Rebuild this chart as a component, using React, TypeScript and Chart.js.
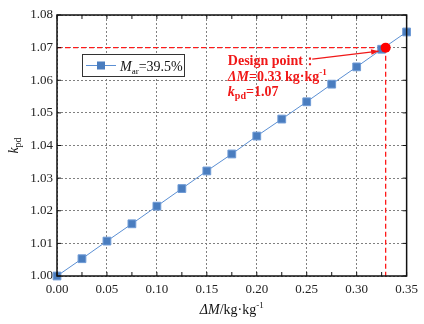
import React, { useEffect, useRef } from "react";
import { Chart, registerables } from "chart.js";

Chart.register(...registerables);

const deltaM = [0, 0.025, 0.05, 0.075, 0.1, 0.125, 0.15, 0.175, 0.2, 0.225, 0.25, 0.275, 0.3, 0.325, 0.35];
const kpd = [1.0, 1.0053, 1.0107, 1.016, 1.0214, 1.0268, 1.0322, 1.0374, 1.0429, 1.0481, 1.0534, 1.0588, 1.0641, 1.0695, 1.0748];
const designX = 0.329;
const designY = 1.07;
const xMin = 0, xMax = 0.35, xStep = 0.05, xMinorStep = 0.025;
const yMin = 1.0, yMax = 1.08, yStep = 0.01;

const SERIF = "'Liberation Serif', 'Times New Roman', serif";
const BLUE = "#4a7dbf";
const BLUE_LINE = "#5b8fd3";
const RED = "#ff1a1a";

function drawRuns(ctx: CanvasRenderingContext2D, x: number, y: number, runs: { t: string; f: string; dy?: number }[]) {
  let cx = x;
  for (const r of runs) {
    ctx.font = r.f;
    ctx.fillText(r.t, cx, y + (r.dy || 0));
    cx += ctx.measureText(r.t).width;
  }
  return cx;
}

const framePlugin = {
  id: "frame",
  beforeDatasetsDraw(chart: any) {
    const { ctx, scales } = chart;
    const xs = scales.x, ys = scales.y;
    const a = chart.chartArea;
    const px = xs.getPixelForValue(designX);
    const py = ys.getPixelForValue(designY);
    ctx.save();
    ctx.strokeStyle = RED;
    ctx.lineWidth = 1.3;
    ctx.setLineDash([5, 3]);
    ctx.beginPath();
    ctx.moveTo(a.left, py);
    ctx.lineTo(px, py);
    ctx.moveTo(px, py);
    ctx.lineTo(px, a.bottom);
    ctx.stroke();
    ctx.restore();
  },
  afterDatasetsDraw(chart: any) {
    const { ctx, scales } = chart;
    const xs = scales.x, ys = scales.y;
    const a = chart.chartArea;
    ctx.save();
    // design point
    const px = xs.getPixelForValue(designX);
    const py = ys.getPixelForValue(designY);
    ctx.fillStyle = "#ff0000";
    ctx.beginPath();
    ctx.arc(px, py, 5, 0, Math.PI * 2);
    ctx.fill();

    // frame
    ctx.strokeStyle = "#111";
    ctx.lineWidth = 1.5;
    ctx.strokeRect(a.left, a.top, a.right - a.left, a.bottom - a.top);

    // ticks inward
    ctx.lineWidth = 1;
    ctx.beginPath();
    for (let v = xMin; v <= xMax + 1e-9; v += xMinorStep) {
      const x = xs.getPixelForValue(v);
      ctx.moveTo(x, a.bottom);
      ctx.lineTo(x, a.bottom - 4);
      ctx.moveTo(x, a.top);
      ctx.lineTo(x, a.top + 4);
    }
    for (let v = yMin; v <= yMax + 1e-9; v += yStep) {
      const y = ys.getPixelForValue(v);
      ctx.moveTo(a.left, y);
      ctx.lineTo(a.left + 4, y);
      ctx.moveTo(a.right, y);
      ctx.lineTo(a.right - 4, y);
    }
    ctx.stroke();

    // legend
    const lx = a.left + 25, ly = a.top + 39, lw = 102, lh = 22;
    ctx.fillStyle = "#fff";
    ctx.fillRect(lx, ly, lw, lh);
    ctx.strokeStyle = "#333";
    ctx.lineWidth = 1;
    ctx.strokeRect(lx + 0.5, ly + 0.5, lw, lh);
    const cy = ly + lh / 2 + 0.5;
    ctx.strokeStyle = BLUE_LINE;
    ctx.beginPath();
    ctx.moveTo(lx + 4, cy);
    ctx.lineTo(lx + 34, cy);
    ctx.stroke();
    ctx.fillStyle = BLUE;
    ctx.fillRect(lx + 15, cy - 4, 8, 8);
    ctx.fillStyle = "#111";
    ctx.textBaseline = "alphabetic";
    drawRuns(ctx, lx + 38, cy + 5, [
      { t: "M", f: `italic 14px ${SERIF}` },
      { t: "ar", f: `9px ${SERIF}`, dy: 3 },
      { t: "=39.5%", f: `14px ${SERIF}` },
    ]);

    // annotation
    const tx = xs.getPixelForValue(0.171);
    const t1 = ys.getPixelForValue(1.0647);
    ctx.fillStyle = "#f01818";
    drawRuns(ctx, tx, t1, [{ t: "Design point：", f: `bold 14px ${SERIF}` }]);
    drawRuns(ctx, tx, t1 + 16, [
      { t: "ΔM", f: `italic bold 14px ${SERIF}` },
      { t: "=0.33 kg·kg", f: `bold 14px ${SERIF}` },
      { t: "-1", f: `bold 9px ${SERIF}`, dy: -6 },
    ]);
    drawRuns(ctx, tx, t1 + 31, [
      { t: "k", f: `italic bold 14px ${SERIF}` },
      { t: "pd", f: `bold 10px ${SERIF}`, dy: 3 },
      { t: "=1.07", f: `bold 14px ${SERIF}` },
    ]);
    // arrow
    const ax0 = xs.getPixelForValue(0.2555), ay0 = ys.getPixelForValue(1.0665);
    const ax1 = px - 7, ay1 = py + 3.5;
    ctx.strokeStyle = "#f01818";
    ctx.lineWidth = 1.3;
    ctx.beginPath();
    ctx.moveTo(ax0, ay0);
    ctx.lineTo(ax1, ay1);
    ctx.stroke();
    const ang = Math.atan2(ay1 - ay0, ax1 - ax0);
    ctx.beginPath();
    ctx.moveTo(ax1, ay1);
    ctx.lineTo(ax1 - 8 * Math.cos(ang - 0.35), ay1 - 8 * Math.sin(ang - 0.35));
    ctx.lineTo(ax1 - 8 * Math.cos(ang + 0.35), ay1 - 8 * Math.sin(ang + 0.35));
    ctx.closePath();
    ctx.fill();

    // axis titles
    ctx.fillStyle = "#111";
    const xt = [
      { t: "ΔM", f: `italic 14px ${SERIF}` },
      { t: "/kg·kg", f: `14px ${SERIF}` },
      { t: "-1", f: `9px ${SERIF}`, dy: -6 },
    ];
    let w = 0;
    for (const r of xt) { ctx.font = r.f; w += ctx.measureText(r.t).width; }
    drawRuns(ctx, (a.left + a.right) / 2 - w / 2, a.bottom + 38, xt);

    ctx.translate(18, (a.top + a.bottom) / 2);
    ctx.rotate(-Math.PI / 2);
    const yt = [
      { t: "k", f: `italic 14px ${SERIF}` },
      { t: "pd", f: `10px ${SERIF}`, dy: 3 },
    ];
    w = 0;
    for (const r of yt) { ctx.font = r.f; w += ctx.measureText(r.t).width; }
    drawRuns(ctx, -w / 2, 0, yt);
    ctx.restore();
  },
};

export default function App() {
  const ref = useRef<HTMLCanvasElement | null>(null);
  useEffect(() => {
    document.body.style.margin = "0";
    const chart = new Chart(ref.current as HTMLCanvasElement, {
      type: "line",
      data: {
        datasets: [
          {
            label: "Mar=39.5%",
            data: deltaM.map((x, i) => ({ x, y: kpd[i] })),
            borderColor: BLUE_LINE,
            borderWidth: 1,
            backgroundColor: BLUE,
            pointBackgroundColor: BLUE,
            pointBorderColor: "#6f9bd6",
            pointBorderWidth: 1,
            pointStyle: "rect",
            pointRadius: 5.5,
            tension: 0,
            clip: false as any,
          },
        ],
      },
      options: {
        animation: false,
        responsive: false,
        maintainAspectRatio: false,
        layout: { padding: { top: 15, right: 14, left: 0, bottom: 0 } },
        plugins: { legend: { display: false }, tooltip: { enabled: false } },
        scales: {
          x: {
            type: "linear",
            min: xMin,
            max: xMax,
            afterFit: (s: any) => { s.height = 48; },
            ticks: {
              stepSize: xStep,
              padding: 6,
              color: "#222",
              font: { family: SERIF, size: 13 },
              callback: (v: any) => Number(v).toFixed(2),
            },
            grid: { color: "#808080", drawTicks: false, lineWidth: 1 },
            border: { display: false, dash: [2, 2] },
          },
          y: {
            type: "linear",
            min: yMin,
            max: yMax,
            afterFit: (s: any) => { s.width = 57; },
            ticks: {
              stepSize: yStep,
              padding: 4,
              color: "#222",
              font: { family: SERIF, size: 13 },
              callback: (v: any) => Number(v).toFixed(2),
            },
            grid: { color: "#808080", drawTicks: false, lineWidth: 1 },
            border: { display: false, dash: [2, 2] },
          },
        },
      },
      plugins: [framePlugin],
    } as any);
    return () => chart.destroy();
  }, []);
  return (
    <div style={{ position: "fixed", left: 0, top: 0, width: 424, height: 324, background: "#fff" }}>
      <canvas ref={ref} width={424} height={324} style={{ width: 424, height: 324 }} />
    </div>
  );
}
